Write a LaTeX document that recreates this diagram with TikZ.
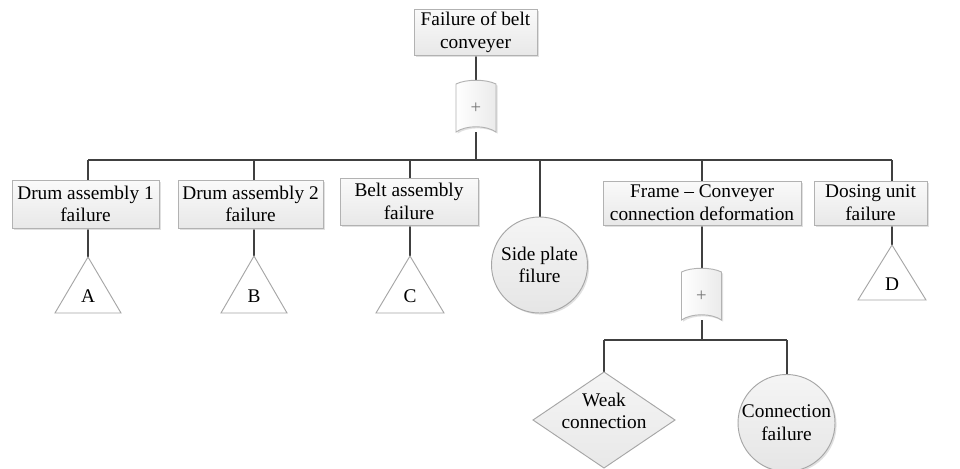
\documentclass[tikz,border=0pt]{standalone}
\usepackage{fontspec}
\setmainfont{Liberation Serif}
\usetikzlibrary{backgrounds,shadows}

\tikzset{
  wire/.style={line width=1.5pt, draw=black!75},
  softshadow/.style={drop shadow={shadow xshift=1.2pt,shadow yshift=-1.2pt,fill=black!20,opacity=0.6}},
  evbox/.style={draw=black!30, line width=0.7pt, top color=black!2, bottom color=black!9,
    align=center, inner sep=0pt, softshadow},
  basic/.style={circle, draw=black!35, line width=0.7pt, top color=black!4, bottom color=black!10,
    align=center, inner sep=0pt, minimum size=72pt, softshadow},
  undev/.style={draw=black!35, line width=0.7pt, fill=white},
  rhomb/.style={draw=black!35, line width=0.7pt, top color=black!4, bottom color=black!9},
  gateshape/.style={draw=black!30, line width=0.7pt, left color=white, right color=black!8, softshadow},
  gatesign/.style={inner sep=0pt, minimum width=30pt, minimum height=36pt,
    font=\fontsize{14}{16}\selectfont, text=black!55},
  lbl/.style={inner sep=0pt, align=center}
}

% OR gate body centred on a coordinate
\newcommand\orgatebody[1]{%
  \path[gateshape,shift={(#1)}] (-20,-24) .. controls (-10,-29) and (10,-29) .. (20,-24)
    -- (20,24) .. controls (10,17) and (-10,17) .. (-20,24) -- cycle;}

\begin{document}
\begin{tikzpicture}[x=0.75pt,y=-0.75pt,font=\fontsize{14.5}{17}\selectfont]
\useasboundingbox (0,0) rectangle (960,468);

% events
\node[evbox,minimum width=92.25pt,minimum height=34.5pt] (top) at (475.5,32) {Failure of belt\\conveyer};
\node[evbox,minimum width=110.25pt,minimum height=36pt] (drum1) at (85.5,204) {Drum assembly 1\\failure};
\node[evbox,minimum width=108.75pt,minimum height=36pt] (drum2) at (250.5,204) {Drum assembly 2\\failure};
\node[evbox,minimum width=103.5pt,minimum height=35.25pt] (belt) at (409,201.5) {Belt assembly\\failure};
\node[evbox,minimum width=148.5pt,minimum height=33pt] (frame) at (702,203) {Frame – Conveyer\\connection deformation};
\node[evbox,minimum width=84.75pt,minimum height=33pt] (dosing) at (870.5,203) {Dosing unit\\failure};

% gates
\coordinate (g1c) at (476,108);
\orgatebody{g1c}
\node[gatesign] (g1) at (g1c) {+};
\coordinate (g2c) at (701.5,296);
\orgatebody{g2c}
\node[gatesign] (g2) at (g2c) {+};

% undeveloped events
\coordinate (tAtop) at (88,257);
\draw[undev] (tAtop) -- ++(33,56) -- ++(-66,0) -- cycle;
\node[lbl] (tA) at (88,296) {A};
\coordinate (tBtop) at (254,256);
\draw[undev] (tBtop) -- ++(33,57) -- ++(-66,0) -- cycle;
\node[lbl] (tB) at (254,296) {B};
\coordinate (tCtop) at (410,256);
\draw[undev] (tCtop) -- ++(34,57) -- ++(-68,0) -- cycle;
\node[lbl] (tC) at (410,296) {C};
\coordinate (tDtop) at (892,245);
\draw[undev] (tDtop) -- ++(34,55) -- ++(-68,0) -- cycle;
\node[lbl] (tD) at (892,284) {D};

% basic events
\node[basic] (side) at (539.5,265) {Side plate\\filure};
\node[basic,minimum size=72.75pt] (conn) at (786.5,423) {Connection\\failure};
\coordinate (weaktop) at (604,372);
\draw[rhomb] (weaktop) -- (675,420) -- (604,468) -- (533,420) -- cycle;
\node[lbl] (weak) at (604,411) {Weak\\connection};

% connectors
\begin{scope}[on background layer]
  \fill[white] (0,0) rectangle (960,468);
  \coordinate (b1) at (0,160);
  \coordinate (b2) at (0,340);
  \draw[wire] (g1.north |- top.south) -- (g1.north);
  \draw[wire] (g1.south) -- (g1.south |- b1);
  \draw[wire] (tAtop |- b1) -- (tDtop |- b1);
  \draw[wire] (tAtop |- b1) -- (tAtop);
  \draw[wire] (tBtop |- b1) -- (tBtop);
  \draw[wire] (tCtop |- b1) -- (tCtop);
  \draw[wire] (side.north |- b1) -- (side.north);
  \draw[wire] (g2.north |- b1) -- (g2.north);
  \draw[wire] (tDtop |- b1) -- (tDtop);
  \draw[wire] (g2.south) -- (g2.south |- b2);
  \draw[wire] (weaktop |- b2) -- (conn.north |- b2);
  \draw[wire] (weaktop |- b2) -- (weaktop);
  \draw[wire] (conn.north |- b2) -- (conn.north);
\end{scope}
\end{tikzpicture}
\end{document}
